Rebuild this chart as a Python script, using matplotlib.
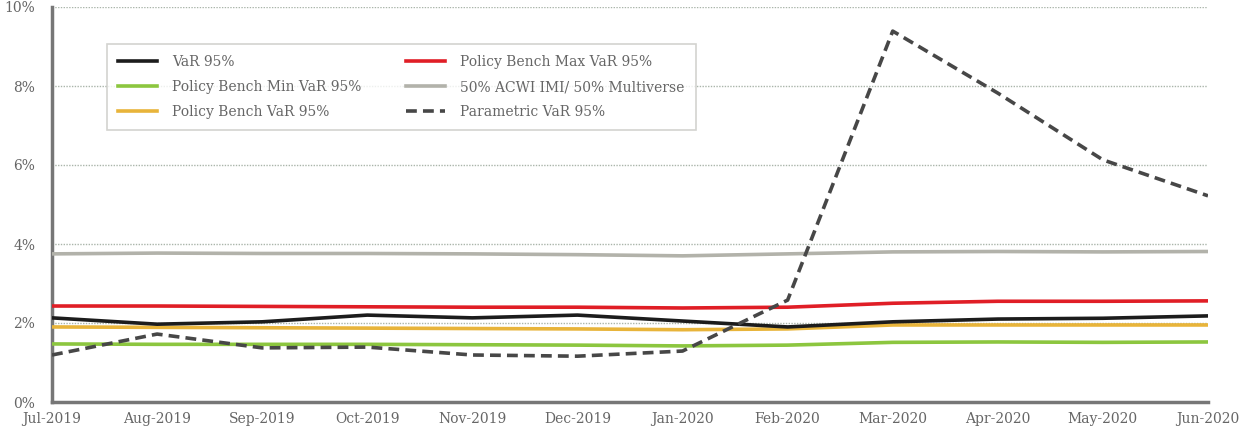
import matplotlib
matplotlib.use("Agg")
import matplotlib.pyplot as plt
from matplotlib.ticker import FuncFormatter

months = ["Jul-2019", "Aug-2019", "Sep-2019", "Oct-2019", "Nov-2019", "Dec-2019",
          "Jan-2020", "Feb-2020", "Mar-2020", "Apr-2020", "May-2020", "Jun-2020"]

var95 = [2.13, 1.97, 2.03, 2.20, 2.13, 2.20, 2.05, 1.90, 2.03, 2.10, 2.12, 2.18]
bench_max = [2.43, 2.43, 2.42, 2.41, 2.40, 2.40, 2.38, 2.40, 2.50, 2.55, 2.55, 2.56]
bench_min = [1.47, 1.46, 1.46, 1.46, 1.45, 1.44, 1.42, 1.44, 1.51, 1.52, 1.51, 1.52]
bench_var = [1.90, 1.89, 1.88, 1.87, 1.86, 1.85, 1.83, 1.85, 1.95, 1.95, 1.95, 1.95]
acwi = [3.75, 3.77, 3.76, 3.76, 3.75, 3.73, 3.70, 3.75, 3.80, 3.81, 3.80, 3.81]
parametric = [1.19, 1.72, 1.37, 1.39, 1.19, 1.16, 1.29, 2.58, 9.39, 7.82, 6.13, 5.22]

plt.rcParams['font.family'] = ['DejaVu Serif', 'DejaVu Sans']

fig = plt.figure(figsize=(12.41, 4.26), dpi=100)
ax = fig.add_axes([52/1241, 1-402/426, (1208-52)/1241, (402-7)/426])

x = list(range(len(months)))
lw = 2.6
ax.plot(x, var95, color="#1c1c1c", lw=lw, label="VaR 95%", zorder=5)
ax.plot(x, bench_min, color="#8cc63f", lw=lw, label="Policy Bench Min VaR 95%", zorder=3)
ax.plot(x, bench_var, color="#e8b43a", lw=lw, label="Policy Bench VaR 95%", zorder=4)
ax.plot(x, bench_max, color="#e01e26", lw=lw, label="Policy Bench Max VaR 95%", zorder=3)
ax.plot(x, acwi, color="#b2b2aa", lw=lw, label="50% ACWI IMI/ 50% Multiverse", zorder=3)
ax.plot(x, parametric, color="#474747", lw=lw, ls=(0, (3, 1.7)), label="Parametric VaR 95%", zorder=6)

ax.set_xlim(0, len(months) - 1)
ax.set_ylim(0, 10)
ax.set_yticks([0, 2, 4, 6, 8, 10])
ax.yaxis.set_major_formatter(FuncFormatter(lambda v, p: f"{v:.0f}%"))
ax.set_xticks(x)
ax.set_xticklabels(months)
ax.tick_params(axis='both', length=0, colors="#666666", labelsize=10)
ax.tick_params(axis='x', pad=7)
ax.tick_params(axis='y', pad=12)
for lab in ax.get_xticklabels():
    lab.set_color("#666666")

ax.grid(axis='y', color="#aab5aa", ls=(0, (1, 1)), lw=1.0, zorder=0)
ax.set_axisbelow(True)
for s in ["top", "right"]:
    ax.spines[s].set_visible(False)
for s in ["left", "bottom"]:
    ax.spines[s].set_color("#777777")
    ax.spines[s].set_linewidth(2.5)

leg = ax.legend(loc="upper left", bbox_to_anchor=(107/1241, 1-44/426),
                bbox_transform=fig.transFigure, ncol=2, frameon=True, fancybox=False,
                edgecolor="#c8c8c4", fontsize=10, handlelength=2.8, handletextpad=1.1,
                columnspacing=3.2, labelspacing=0.8, borderpad=0.8, borderaxespad=0)
leg.get_frame().set_linewidth(1.2)
for t in leg.get_texts():
    t.set_color("#666666")

fig.savefig("out.png", dpi=100)
